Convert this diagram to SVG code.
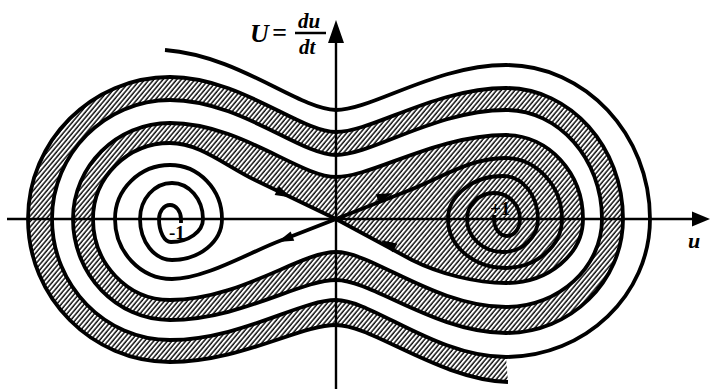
<svg xmlns="http://www.w3.org/2000/svg" width="710" height="389" viewBox="0 0 710 389">
<style>
.curve{fill:none;stroke:#000;stroke-width:3.8;stroke-linejoin:round;stroke-linecap:butt}
.axis{fill:none;stroke:#000;stroke-width:2.4}
.lbl{font-family:"Liberation Serif","Times New Roman",serif;font-weight:bold;font-style:italic;fill:#000}
.num{font-family:"Liberation Serif","Times New Roman",serif;font-weight:bold;fill:#000;font-size:19px}
</style>
<defs>
<pattern id="hatchPat" patternUnits="userSpaceOnUse" width="3.5" height="10" patternTransform="rotate(40)">
<line x1="1" y1="0" x2="1" y2="10" stroke="#000" stroke-width="1.4"/>
</pattern>
<polygon id="ah" points="8,0 -8,-5 -8,5" fill="#000"/>
</defs>
<rect width="710" height="389" fill="#fff"/>
<g id="basin-plus1">
<path fill="url(#hatchPat)" d="M336,219 L412,260 C440,274 476,283 506,283 C548.4,283 583,254.2 583,219 C583,172.8 548.4,135 506,135 C436,135 372,177 336,177 C300,177 240,123 170,123 C116.7,123 73,166.2 73,219 C73,274.6 116.7,320 170,320 C240,320 300,280 336,280 C372,280 436,333 506,333 C570.4,333 623,281.7 623,219 C623,147 570.4,88 506,88 C436,88 372,132 336,132 C300,132 240,77 170,77 C91.9,77 28,140.9 28,219 C28,297.7 91.9,362 170,362 C240,362 300,325 336,325 C372,325 440,380 508,382 L506,357 C436,357 372,300 336,300 C300,300 240,340 170,340 C105.1,340 52,285.6 52,219 C52,153.6 105.1,100 170,100 C240,100 300,155 336,155 C372,155 436,110 506,110 C558.8,110 602,159 602,219 C602,267.4 558.8,307 506,307 C436,307 372,252 336,252 C300,252 240,300 170,300 C127.6,300 93,263.6 93,219 C93,177.2 127.6,143 170,143 C200,143 225,165.5 255,180 Z"/>
</g>
<g id="connectors">
<path id="S1" class="curve" d="M336,219 L255,180 C225,165.5 200,143 170,143 C127.6,143 93,177.2 93,219 C93,263.6 127.6,300 170,300 C240,300 300,252 336,252 C372,252 436,307 506,307 C558.8,307 602,267.4 602,219 C602,159 558.8,110 506,110 C436,110 372,155 336,155 C300,155 240,100 170,100 C105.1,100 52,153.6 52,219 C52,285.6 105.1,340 170,340 C240,340 300,300 336,300 C372,300 436,357 506,357 C585.2,357 650,294.9 650,219 C650,134.3 585.2,65 506,65 C436,65 372,110 336,110 C296,108 240,56 165,50"/>
<path id="S2" class="curve" d="M336,219 L412,260 C440,274 476,283 506,283 C548.4,283 583,254.2 583,219 C583,172.8 548.4,135 506,135 C436,135 372,177 336,177 C300,177 240,123 170,123 C116.7,123 73,166.2 73,219 C73,274.6 116.7,320 170,320 C240,320 300,280 336,280 C372,280 436,333 506,333 C570.4,333 623,281.7 623,219 C623,147 570.4,88 506,88 C436,88 372,132 336,132 C300,132 240,77 170,77 C91.9,77 28,140.9 28,219 C28,297.7 91.9,362 170,362 C240,362 300,325 336,325 C372,325 440,380 508,382"/>
<path id="Uminus" class="curve" d="M336,219 L282,240 C250,252 205,279 172,279 C140.6,279 115,252 115,219 C115,189.3 139.8,165 170,165 C198.6,165 222,189.3 222,219 C222,241.6 199.5,260 172,260 C154.4,260 140,241.6 140,219 C140,199.2 154.4,183 172,183 C189,183 203,199.2 203,219 C203,231.7 188.6,242 171,242 C164.4,242 159,231.7 159,219 C159,211.3 164,205 170,205 C176,205 181,211.3 181,219 L181,223"/>
<path id="Uplus" class="curve" d="M336,219 L410,190 C440,178.3 470,158 505,158 C536.4,158 562,185.5 562,219 C562,246 536.4,268 505,268 C473.7,268 448,246 448,219 C448,195.4 472.8,176 503,176 C522.3,176 538,195.4 538,219 C538,237.2 522.3,252 503,252 C483.2,252 467,237.2 467,219 C467,204.7 479.2,193 494,193 C508.3,193 520,204.7 520,219 C520,228.4 514.2,236 507,236 C499.8,236 494,228.4 494,219 L494,215"/>
</g>
<g id="axes">
<line class="axis" x1="7" y1="219" x2="694" y2="219"/>
<line class="axis" x1="336" y1="389" x2="336" y2="40"/>
<polygon points="710,219 692,211.5 692,226.5" fill="#000"/>
<polygon points="336,20 328,43 344,43" fill="#000"/>
</g>
<g id="arrowheads">
<use href="#ah" transform="translate(284,194) rotate(25.7)"/>
<use href="#ah" transform="translate(385,196) rotate(-21.4)"/>
<use href="#ah" transform="translate(285,239) rotate(158.7)"/>
<use href="#ah" transform="translate(388,244) rotate(208.3)"/>
</g>
<g id="labels">
<text class="lbl" x="250" y="42" font-size="26">U</text>
<text class="lbl" x="272" y="41" font-size="26" font-style="normal">=</text>
<text class="lbl" x="298" y="28" font-size="21">du</text>
<line x1="295" y1="33" x2="326" y2="33" stroke="#000" stroke-width="2.5"/>
<text class="lbl" x="299" y="54" font-size="21">dt</text>
<text class="lbl" x="688" y="248" font-size="22">u</text>
<text class="num" x="169" y="239">-1</text>
<text class="num" x="490" y="215">+1</text>
</g>
</svg>
